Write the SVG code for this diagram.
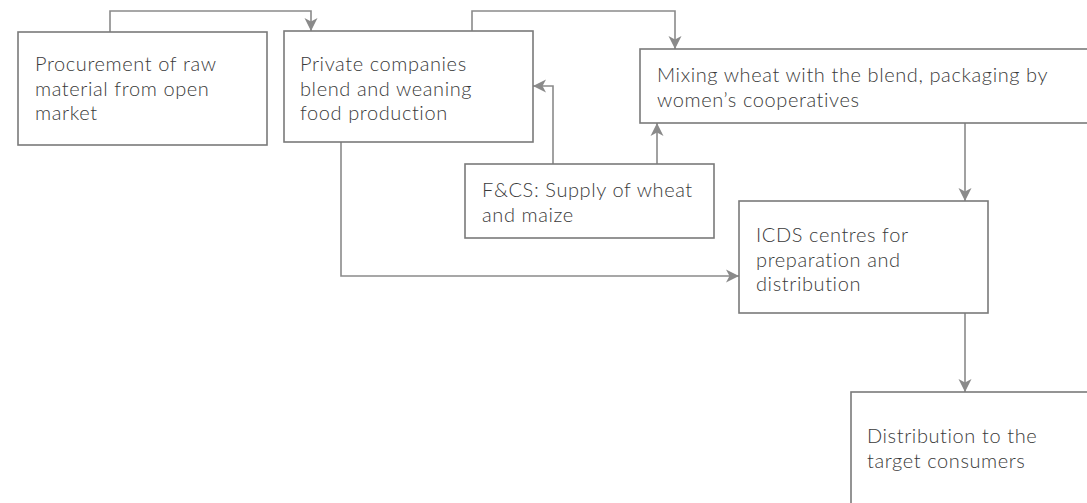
<svg xmlns="http://www.w3.org/2000/svg" width="1087" height="503" viewBox="0 0 1087 503">
<style>
.box{fill:#fff;stroke:#7a7a7a;stroke-width:1.6}
.t{font-family:Lato,"Open Sans","Liberation Sans",sans-serif;font-size:20px;font-weight:300;letter-spacing:0.6px;fill:#3a3a3a}
.c{fill:none;stroke:#8a8a8a;stroke-width:1.6}
</style>
<defs>
<marker id="ah" markerUnits="userSpaceOnUse" markerWidth="14" markerHeight="14" viewBox="0 0 14 14" refX="13" refY="7" orient="auto">
<path d="M0,0.5 L13,7 L0,13.5 L3.5,7 Z" fill="#8a8a8a"/>
</marker>
</defs>
<rect width="1087" height="503" fill="#fff"/>
<g id="connectors">
<path class="c" d="M110,32 V11 H311 V31" marker-end="url(#ah)"/>
<path class="c" d="M472,31 V11 H675 V49" marker-end="url(#ah)"/>
<path class="c" d="M553,164 V86 H533" marker-end="url(#ah)"/>
<path class="c" d="M657,164 V123" marker-end="url(#ah)"/>
<path class="c" d="M341,142 V276 H739" marker-end="url(#ah)"/>
<path class="c" d="M965,123 V201" marker-end="url(#ah)"/>
<path class="c" d="M965,313 V392" marker-end="url(#ah)"/>
</g>
<g id="procurement">
<rect class="box" x="18" y="32" width="249" height="113"/>
<text class="t" x="35" y="71">Procurement of raw<tspan x="35" dy="24.5">material from open</tspan><tspan x="35" dy="24.5">market</tspan></text>
</g>
<g id="private">
<rect class="box" x="284" y="31" width="249" height="111"/>
<text class="t" x="300" y="71">Private companies<tspan x="300" dy="24.5">blend and weaning</tspan><tspan x="300" dy="24.5">food production</tspan></text>
</g>
<g id="mixing">
<rect class="box" x="640" y="49" width="470" height="74"/>
<text class="t" x="657" y="82">Mixing wheat with the blend, packaging by<tspan x="657" dy="24.5">women’s cooperatives</tspan></text>
</g>
<g id="fcs">
<rect class="box" x="465" y="164" width="249" height="74"/>
<text class="t" x="482" y="197">F&amp;CS: Supply of wheat<tspan x="482" dy="24.5">and maize</tspan></text>
</g>
<g id="icds">
<rect class="box" x="739" y="201" width="249" height="112"/>
<text class="t" x="756" y="242">ICDS centres for<tspan x="756" dy="24.5">preparation and</tspan><tspan x="756" dy="24.5">distribution</tspan></text>
</g>
<g id="distribution">
<rect class="box" x="851" y="392" width="260" height="130"/>
<text class="t" x="867" y="443">Distribution to the<tspan x="867" dy="24.5">target consumers</tspan></text>
</g>
</svg>
